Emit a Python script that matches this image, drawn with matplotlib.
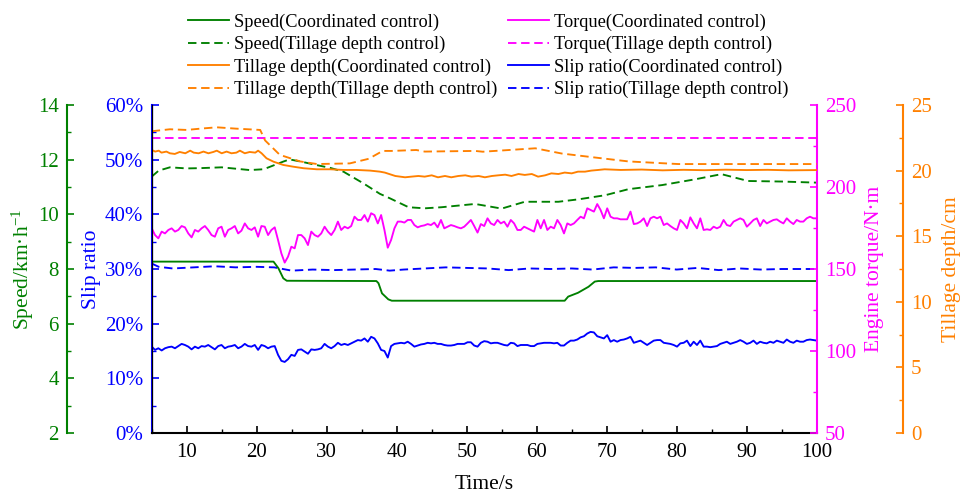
import numpy as np
import matplotlib.pyplot as plt
from matplotlib.ticker import MultipleLocator, PercentFormatter

plt.rcParams['font.family'] = ['Liberation Serif', 'DejaVu Serif']
plt.rcParams['mathtext.fontset'] = 'custom'
plt.rcParams['mathtext.rm'] = 'Liberation Serif'
plt.rcParams['mathtext.it'] = 'Liberation Serif:italic'

# ---- data ----
# noisy series sampled on a common time grid (s)
t_fine = np.linspace(5, 100, 201)

torque_coord = [
    174.8, 170.7, 168.7, 172.8, 171.7, 173.8, 174.8, 172.8, 173.8, 176.2,
    175.4, 171.7, 169.3, 173.8, 172.8, 174.8, 176.2, 173.8, 170.7, 169.7,
    174.8, 175.8, 169.7, 173.8, 174.8, 176.2, 171.7, 173.4, 177.8, 174.8,
    173.8, 175.4, 169.7, 176.2, 175.8, 170.7, 173.8, 175.4, 167.7, 159.5,
    153.9, 157.5, 163.6, 162.6, 170.7, 170.7, 168.7, 164.6, 172.8, 170.7,
    169.7, 171.7, 175.8, 172.8, 170.7, 173.8, 178.9, 173.8, 175.8, 174.8,
    176.2, 181.9, 179.9, 179.9, 182.9, 178.9, 184.0, 182.9, 177.8, 182.9,
    173.8, 163.0, 167.7, 174.8, 178.9, 178.9, 178.3, 179.9, 179.9, 176.8,
    175.4, 176.2, 176.6, 177.4, 176.8, 178.3, 175.4, 179.9, 174.8, 175.8,
    176.8, 176.2, 175.4, 174.8, 175.8, 177.8, 179.9, 176.2, 172.2, 177.4,
    176.2, 180.9, 177.8, 176.8, 179.9, 177.8, 178.9, 175.8, 179.9, 177.8,
    173.8, 173.8, 175.8, 174.8, 173.8, 172.8, 179.9, 174.8, 179.9, 173.8,
    175.8, 174.8, 179.9, 176.8, 171.7, 177.8, 176.8, 177.8, 179.9, 181.9,
    180.9, 187.0, 186.0, 185.0, 189.6, 186.0, 180.9, 187.0,
    181.9, 180.9, 180.9, 180.3, 180.3, 180.3, 185.0, 177.4, 177.8, 178.9,
    180.9, 176.2, 180.9, 181.9, 180.9, 181.9, 176.8, 177.8, 176.2, 174.8,
    173.8, 179.9, 177.8, 174.8, 181.5, 177.8, 174.8, 180.9, 173.8, 174.2,
    173.8, 175.8, 174.8, 175.8, 179.9, 176.8, 176.2, 178.9, 179.9, 180.9,
    179.9, 175.8, 177.8, 179.9, 180.9, 176.2, 179.9, 177.8, 178.9, 179.9,
    180.3, 178.9, 177.8, 180.9, 178.9, 177.4, 179.9, 178.9, 178.9, 180.9,
    181.9, 180.9, 180.9,
]

slip_coord = [
    15.8, 15.2, 15.5, 15.1, 15.5, 15.7, 15.8, 15.5, 15.9, 16.3,
    16.1, 15.8, 15.3, 15.8, 15.5, 15.9, 15.8, 16.1, 15.7, 15.3,
    15.9, 16.1, 15.5, 15.8, 15.9, 16.1, 15.5, 15.8, 16.3, 15.9,
    15.8, 16.1, 15.2, 16.1, 15.9, 15.5, 15.8, 15.9, 14.3, 13.2,
    13.0, 13.5, 14.3, 14.1, 15.2, 15.3, 14.9, 14.5, 15.3, 15.2,
    15.3, 15.5, 16.3, 15.8, 15.5, 15.9, 16.5, 16.1, 16.3, 16.1,
    16.4, 16.7, 17.0, 16.9, 17.3, 16.7, 17.6, 17.3, 16.4, 15.2,
    15.0, 13.8, 15.9, 16.3, 16.4, 16.5, 16.4, 16.7, 16.3, 15.8,
    16.0, 16.2, 16.3, 16.5, 16.4, 16.5, 16.3, 16.3, 16.1, 16.0,
    16.0, 16.1, 16.3, 16.3, 16.3, 16.6, 16.6, 16.0, 15.8, 16.5,
    16.8, 16.7, 16.4, 16.5, 16.5, 16.3, 16.1, 16.0, 16.5, 16.4,
    15.9, 16.1, 16.1, 16.1, 15.9, 15.9, 16.3, 16.4, 16.5, 16.5,
    16.5, 16.4, 16.5, 16.0, 16.0, 16.5, 16.9, 16.9, 17.1, 17.5,
    17.7, 18.2, 18.5, 18.4, 17.7, 17.5, 17.3, 17.9,
    16.7, 17.0, 16.7, 17.0, 17.1, 17.3, 17.6, 16.5, 16.7, 16.9,
    16.5, 16.1, 16.5, 16.9, 17.0, 17.0, 16.5, 16.4, 16.3, 16.1,
    15.8, 16.4, 16.5, 16.9, 15.9, 16.7, 16.1, 16.9, 15.8, 15.8,
    15.7, 15.8, 15.9, 16.3, 16.5, 16.7, 16.3, 16.5, 16.7, 17.0,
    16.7, 16.3, 16.5, 16.9, 16.3, 16.7, 16.5, 16.4, 16.7, 16.5,
    16.9, 16.7, 16.5, 17.1, 16.7, 16.5, 16.9, 16.7, 16.7, 17.0,
    17.1, 17.0, 16.9,
]

# tillage depth, coordinated control (cm)
depth_coord_t = [5.0, 5.5, 6.0, 6.4, 7.1, 7.6, 8.3, 9.0, 9.8, 10.5, 11.0, 11.7,
                 12.4, 13.1, 13.8, 14.3, 15.0, 15.7, 16.4, 17.1, 17.6, 18.3,
                 19.0, 19.8, 20.2, 20.7, 21.4, 22.4, 23.8, 25.2, 26.7, 28.6,
                 30.5, 32.4, 34.3, 36.2, 37.6, 38.3, 39.8, 41.2, 42.1, 43.1,
                 44.0, 45.0, 45.9, 46.9, 47.8, 48.8, 49.8, 50.7, 51.7, 52.6,
                 53.6, 54.5, 55.5, 56.4, 57.4, 58.3, 59.3, 60.2, 61.2, 62.1,
                 63.1, 64.0, 65.0, 65.9, 66.9, 67.8, 68.8, 69.7, 72.0, 75.0,
                 78.0, 81.0, 84.0, 87.0, 90.0, 93.0, 96.0, 100.0]
depth_coord = [21.57, 21.45, 21.52, 21.37, 21.45, 21.32, 21.27, 21.42, 21.32, 21.52,
               21.37, 21.32, 21.45, 21.32, 21.42, 21.52, 21.32, 21.45, 21.32, 21.37,
               21.52, 21.32, 21.42, 21.37, 21.52, 21.32, 20.94, 20.68, 20.43, 20.30,
               20.18, 20.10, 20.10, 20.05, 20.05, 20.00, 19.92, 19.85, 19.59, 19.49,
               19.54, 19.59, 19.54, 19.64, 19.49, 19.59, 19.49, 19.59, 19.64, 19.54,
               19.59, 19.49, 19.59, 19.64, 19.69, 19.59, 19.74, 19.67, 19.74, 19.54,
               19.64, 19.79, 19.74, 19.85, 19.79, 19.92, 19.92, 20.00, 20.05, 20.10,
               20.05, 20.08, 20.02, 20.06, 20.03, 20.07, 20.04, 20.06, 20.02, 20.04]

# tillage depth, tillage depth control (cm)
depth_td_t = [5.0, 7.6, 10.0, 12.0, 14.3, 17.0, 20.5, 21.2, 23.3, 26.2, 28.6, 33.3,
              36.0, 38.0, 39.3, 42.8, 44.0, 51.2, 52.3, 59.8, 63.6, 68.3, 73.1,
              80.2, 100.0]
depth_td = [23.0, 23.15, 23.1, 23.2, 23.3, 23.2, 23.1, 22.3, 21.2, 20.7, 20.5, 20.55,
            20.9, 21.5, 21.5, 21.57, 21.45, 21.5, 21.44, 21.7, 21.3, 21.0, 20.7,
            20.5, 20.5]

# speed (km/h)
speed_coord_t = [5.0, 22.4, 23.1, 23.8, 24.3, 37.1, 37.4, 37.9, 38.8, 39.3, 64.0,
                 64.5, 65.9, 67.4, 68.3, 68.8, 100.0]
speed_coord = [8.27, 8.27, 8.03, 7.66, 7.57, 7.56, 7.48, 7.11, 6.89, 6.84, 6.84,
               6.99, 7.13, 7.35, 7.54, 7.56, 7.56]

speed_td_t = [5.0, 6.0, 7.6, 10.0, 11.9, 15.0, 19.0, 21.0, 23.8, 24.7, 26.5, 28.6,
              30.5, 32.4, 35.2, 37.6, 39.0, 41.7, 44.0, 46.4, 51.2, 55.0, 58.3,
              63.1, 66.0, 69.8, 73.1, 77.9, 82.6, 86.4, 90.2, 95.0, 100.0]
speed_td = [11.38, 11.6, 11.72, 11.68, 11.69, 11.72, 11.62, 11.65, 11.93, 12.01,
            11.92, 11.8, 11.7, 11.56, 11.14, 10.75, 10.59, 10.26, 10.22, 10.26,
            10.38, 10.21, 10.46, 10.46, 10.55, 10.7, 10.92, 11.07, 11.28, 11.47,
            11.22, 11.2, 11.16]

# slip ratio, tillage depth control (%)
slip_td_t = [5, 6, 8, 11, 14, 17, 20, 22.5, 25, 28, 31, 34, 37, 39, 41, 44, 47, 50,
             53, 56, 59, 62, 65, 68, 71, 74, 77, 80, 83, 86, 89, 92, 95, 100]
slip_td = [31.0, 30.4, 30.1, 30.3, 30.5, 30.3, 30.4, 30.3, 29.7, 29.9, 29.8, 29.9,
           30.0, 29.7, 29.9, 30.1, 30.3, 30.2, 30.1, 29.8, 30.1, 30.0, 30.1, 29.9,
           30.3, 30.2, 30.3, 29.9, 30.2, 29.8, 30.1, 29.9, 30.0, 30.0]

# torque, tillage depth control (N·m)
torque_td_t = [5, 100]
torque_td = [230, 230]

GREEN = '#008000'
BLUE = '#0000FF'
MAGENTA = '#FF00FF'
ORANGE = '#FF8000'
DASH = (0, (4.5, 2.5))
LW = 1.35
TICK_FS = 15
LABEL_FS = 15.5

fig = plt.figure(figsize=(9.65, 4.96), dpi=100)
ax = fig.add_axes([0.1572, 0.127, 0.6891, 0.6613])
ax_spd = ax.twinx()
ax_tq = ax.twinx()
ax_dep = ax.twinx()

for a in (ax, ax_spd, ax_tq, ax_dep):
    a.spines['top'].set_visible(False)
    a.patch.set_visible(False)
    a.tick_params(which='major', length=5, width=1.2)
    a.tick_params(which='minor', length=3, width=1.0)
for a in (ax_spd, ax_tq, ax_dep):
    a.spines['bottom'].set_visible(False)

# slip ratio axis (main, left)
ax.spines['right'].set_visible(False)
ax.spines['left'].set_color(BLUE)
ax.spines['left'].set_linewidth(1.5)
ax.spines['bottom'].set_linewidth(1.5)
ax.set_ylim(0, 60)
ax.set_xlim(5, 100)
ax.yaxis.set_major_locator(MultipleLocator(10))
ax.yaxis.set_minor_locator(MultipleLocator(5))
ax.yaxis.set_major_formatter(PercentFormatter(decimals=0))
ax.set_xticks(range(10, 101, 10))
ax.xaxis.set_minor_locator(MultipleLocator(5))
ax.tick_params(axis='y', which='both', direction='in', colors=BLUE,
               labelsize=TICK_FS, pad=6)
ax.tick_params(axis='x', which='both', direction='in', labelsize=TICK_FS, pad=7.5)
ax.set_ylabel('Slip ratio', color=BLUE, fontsize=LABEL_FS, labelpad=3)
ax.set_xlabel('Time/s', fontsize=LABEL_FS, labelpad=9)

# speed axis (outer left)
ax_spd.spines['right'].set_visible(False)
ax_spd.spines['left'].set_visible(True)
ax_spd.spines['left'].set_position(('outward', 61))
ax_spd.spines['left'].set_color(GREEN)
ax_spd.spines['left'].set_linewidth(1.5)
ax_spd.yaxis.set_ticks_position('left')
ax_spd.yaxis.set_label_position('left')
ax_spd.set_ylim(2, 14)
ax_spd.yaxis.set_major_locator(MultipleLocator(2))
ax_spd.yaxis.set_minor_locator(MultipleLocator(1))
ax_spd.tick_params(axis='y', which='both', direction='in', colors=GREEN,
                   labelsize=TICK_FS, pad=6)
ax_spd.set_ylabel('Speed/km·h$^{-1}$', color=GREEN, fontsize=LABEL_FS, labelpad=1)

# torque axis (right)
ax_tq.spines['right'].set_color(MAGENTA)
ax_tq.spines['right'].set_linewidth(1.5)
ax_tq.set_ylim(50, 250)
ax_tq.yaxis.set_major_locator(MultipleLocator(50))
ax_tq.yaxis.set_minor_locator(MultipleLocator(25))
ax_tq.tick_params(axis='y', which='both', direction='in', colors=MAGENTA,
                  labelsize=TICK_FS, pad=6)
ax_tq.set_ylabel('Engine torque/N·m', color=MAGENTA, fontsize=LABEL_FS, labelpad=6)

# tillage depth axis (outer right)
ax_dep.spines['right'].set_position(('outward', 62))
ax_dep.spines['right'].set_color(ORANGE)
ax_dep.spines['right'].set_linewidth(1.5)
ax_dep.set_ylim(0, 25)
ax_dep.yaxis.set_major_locator(MultipleLocator(5))
ax_dep.yaxis.set_minor_locator(MultipleLocator(2.5))
ax_dep.tick_params(axis='y', which='both', direction='in', colors=ORANGE,
                   labelsize=TICK_FS, pad=6)
ax_dep.set_ylabel('Tillage depth/cm', color=ORANGE, fontsize=LABEL_FS, labelpad=7)

# lines
l_sc, = ax_spd.plot(speed_coord_t, speed_coord, color=GREEN, lw=LW,
                    label='Speed(Coordinated control)')
l_st, = ax_spd.plot(speed_td_t, speed_td, color=GREEN, lw=LW, ls=DASH,
                    label='Speed(Tillage depth control)')
l_dc, = ax_dep.plot(depth_coord_t, depth_coord, color=ORANGE, lw=LW,
                    label='Tillage depth(Coordinated control)')
l_dt, = ax_dep.plot(depth_td_t, depth_td, color=ORANGE, lw=LW, ls=DASH,
                    label='Tillage depth(Tillage depth control)')
l_tc, = ax_tq.plot(t_fine, torque_coord, color=MAGENTA, lw=LW,
                   label='Torque(Coordinated control)')
l_tt, = ax_tq.plot(torque_td_t, torque_td, color=MAGENTA, lw=LW, ls=DASH,
                   label='Torque(Tillage depth control)')
l_pc, = ax.plot(t_fine, slip_coord, color=BLUE, lw=LW,
                label='Slip ratio(Coordinated control)')
l_pt, = ax.plot(slip_td_t, slip_td, color=BLUE, lw=LW, ls=DASH,
                label='Slip ratio(Tillage depth control)')

handles = [l_sc, l_st, l_dc, l_dt, l_tc, l_tt, l_pc, l_pt]
fig.legend(handles=handles, loc='upper center', bbox_to_anchor=(0.506, 1.006),
           ncol=2, frameon=False, fontsize=13.2, handlelength=2.25,
           handletextpad=0.27, columnspacing=0.6, labelspacing=0.28)

fig.savefig('out.png', dpi=100)
